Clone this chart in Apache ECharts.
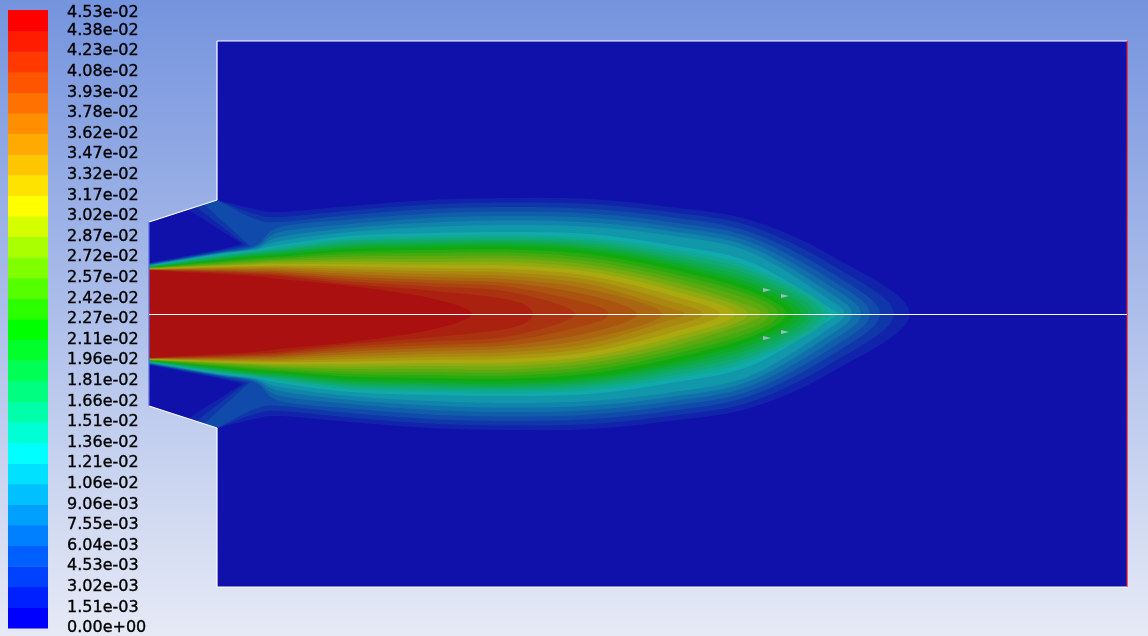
<!DOCTYPE html>
<html><head><meta charset="utf-8">
<script src="https://cdn.jsdelivr.net/npm/echarts/dist/echarts.min.js"></script>
<style>html,body{margin:0;padding:0;overflow:hidden}#c{width:1148px;height:636px}</style>
</head><body><div id="c"></div>
<script>
// ---- legend (colour scale) ----
const tickLabels = ['0.00e+00','1.51e-03','3.02e-03','4.53e-03','6.04e-03','7.55e-03','9.06e-03','1.06e-02','1.21e-02','1.36e-02','1.51e-02','1.66e-02','1.81e-02','1.96e-02','2.11e-02','2.27e-02','2.42e-02','2.57e-02','2.72e-02','2.87e-02','3.02e-02','3.17e-02','3.32e-02','3.47e-02','3.62e-02','3.78e-02','3.93e-02','4.08e-02','4.23e-02','4.38e-02','4.53e-02'];
const bandColors = ['#0000ff','#0020ff','#0040ff','#0060ff','#0080ff','#00a0ff','#00c0ff','#00e0ff','#00ffff',
  '#00ffd5','#00ffaa','#00ff80','#00ff55','#00ff2b','#00ff00',
  '#2bff00','#55ff00','#80ff00','#aaff00','#d5ff00','#ffff00',
  '#ffe300','#ffc600','#ffaa00','#ff8e00','#ff7100','#ff5500','#ff3900','#ff1c00','#ff0000'];

// ---- geometry (axial x from inlet, radial r from axis) ----
const domainX = [0, 68, 68, 978, 978, 68, 68, 0];
const domainR = [92, 114, 273, 273, -273, -273, -114, -92];

// ---- contour lines, level k = 1..29 (upper half, mirrored) ----
const stationX = [0, 68, 106, 131, 201, 281, 361, 441, 521, 601, 681];
const tipX = [761, 745, 731, 721, 712, 703, 695, 687, 680, 673, 666, 659, 652, 645, 637, 629, 620, 610, 599, 586, 571, 554, 535, 513, 488, 459, 426, 384, 323];
const halfWidth = [
  [51.0, 64, 105, 102, 108, 114, 116, 115, 107, 94, 59],
  [50.6, 63, 100, 97, 103.5, 109.5, 111.5, 110, 102, 88, 50],
  [50.2, 62, 95, 92, 99, 105, 107, 105, 97, 82, 42],
  [49.8, 61.5, 68.5, 87, 94.5, 100.5, 102.5, 100.5, 92, 77, 35],
  [49.4, 61, 67, 82, 90, 96, 98, 96, 87.5, 72, 28],
  [49.0, 60.5, 66, 77, 86, 91.5, 93.5, 91.5, 83, 67, 21],
  [48.6, 60, 65, 73, 82, 87, 89, 87, 78.5, 62, 14],
  [48.3, 59.5, 64, 69, 78, 81, 82, 80, 69, 52, 6],
  [48.0, 58.5, 63, 67, 75.5, 78, 79, 76, 65, 47],
  [47.7, 57.5, 62, 65, 73, 75.5, 76.5, 73, 61.5, 43],
  [47.4, 56.5, 61, 63.5, 71, 73, 74, 70.5, 58, 39],
  [47.1, 55.5, 60, 62, 69, 71, 72, 68, 55, 35],
  [46.8, 54.5, 59, 60.5, 67, 69, 70, 65.5, 52, 31],
  [46.5, 53.5, 57.5, 59, 65, 67, 67.5, 63, 49, 27],
  [46.3, 52.5, 56, 57.5, 62.5, 64, 64.5, 59.5, 45, 23],
  [46.1, 51.5, 54.5, 56, 60, 61, 61.5, 56, 41, 19],
  [45.9, 50.5, 53, 54.5, 57.5, 58, 58.5, 52.5, 37, 14],
  [45.7, 49.5, 51.5, 53, 55, 55, 55.5, 49, 33, 8],
  [45.5, 48.7, 50.3, 51.5, 52.5, 52, 52, 45.5, 28.5],
  [45.3, 48, 49.2, 50, 50, 49, 48.5, 42, 24],
  [45.1, 47.2, 48, 48.5, 47.5, 46, 45, 38, 19],
  [44.9, 46.4, 46.8, 47, 45, 43, 41.5, 34, 13],
  [44.7, 45.6, 45.6, 45.5, 42.5, 40, 38, 29.5, 6],
  [44.5, 44.8, 44.4, 44, 40, 37, 34.5, 24.5],
  [44.3, 44, 43.2, 42.5, 37.5, 34, 31, 18.5],
  [44.2, 43.2, 42, 41, 35, 31, 27, 10],
  [44.1, 42.4, 40.8, 39.5, 32.5, 27.5, 22],
  [44.0, 41.4, 39.6, 38, 30, 23.5, 14],
  [43.9, 40, 37.8, 35, 28, 16]
];
// recirculation wedge behind the step for the lowest levels
const wedgeTurnX = [93, 97, 101];
const wedgeTurnR = [70, 69, 68];
const wedgeWallX = [39, 47, 55];
const wedgeWallR = [104.6, 107.2, 109.8];
// small vector glyphs near the jet tip
const glyphX = [618, 636, 618, 636];
const glyphR = [24, 18, -24, -18];

// ---- rendering helpers ----
const shade = hex => {
  const n = parseInt(hex.slice(1), 16);
  const f = c => Math.round(16 + c * 154 / 255);
  return 'rgb(' + f((n >> 16) & 255) + ',' + f((n >> 8) & 255) + ',' + f(n & 255) + ')';
};
const domainPts = api => domainX.map((x, i) => api.coord([x, domainR[i]]));

function levelPts(i) {
  const r = halfWidth[i];
  const up = [], upC = [];
  for (let j = 0; j < r.length; j++) {
    up.push([stationX[j], r[j]]); upC.push(j === 0);
    if (j === 1 && i < wedgeTurnX.length) {
      up.push([wedgeTurnX[i], wedgeTurnR[i]]); upC.push(true);
      up.push([wedgeWallX[i], wedgeWallR[i]]); upC.push(true);
      up.push([domainX[1], domainR[1]]); upC.push(true);
    }
  }
  const low = up.slice().reverse().map(p => [p[0], -p[1]]);
  const lowC = upC.slice().reverse();
  return {pts: up.concat([[tipX[i], 0]], low), corner: upC.concat([false], lowC)};
}

// Catmull-Rom through the contour points (pixel space), corners kept sharp
function spline(pts, corner) {
  const n = pts.length, out = [], steps = 10;
  for (let s = 0; s < n; s++) {
    const e = (s + 1) % n;
    const p1 = pts[s], p2 = pts[e];
    const p0 = corner[s] ? p1 : pts[(s - 1 + n) % n];
    const p3 = corner[e] ? p2 : pts[(s + 2) % n];
    for (let t = 0; t < steps; t++) {
      const u = t / steps, u2 = u * u, u3 = u2 * u;
      const f = k => 0.5 * (2 * p1[k] + (-p0[k] + p2[k]) * u +
        (2 * p0[k] - 5 * p1[k] + 4 * p2[k] - p3[k]) * u2 +
        (-p0[k] + 3 * p1[k] - 3 * p2[k] + p3[k]) * u3);
      out.push([f(0), f(1)]);
    }
  }
  return out;
}

const chart = echarts.init(document.getElementById('c'));
chart.setOption({
  animation: false,
  backgroundColor: {type: 'linear', x: 0, y: 0, x2: 0, y2: 1,
    colorStops: [{offset: 0, color: '#7594de'}, {offset: 1, color: '#e6eaf6'}]},
  grid: [
    {left: 149, top: 41, width: 978, height: 546},
    {left: 8, top: 10, width: 40, height: 618}
  ],
  xAxis: [
    {type: 'value', gridIndex: 0, min: 0, max: 978, show: false},
    {type: 'value', gridIndex: 1, min: 0, max: 1, show: false}
  ],
  yAxis: [
    {type: 'value', gridIndex: 0, min: -273, max: 273, show: false},
    {type: 'value', gridIndex: 1, min: 0, max: 30, interval: 1, show: false}
  ],
  series: [
    {
      type: 'custom', xAxisIndex: 0, yAxisIndex: 0, clip: false, silent: true,
      data: [[0]],
      renderItem: (params, api) => ({
        type: 'polygon', shape: {points: domainPts(api)},
        style: {fill: shade(bandColors[0])}
      })
    },
    {
      type: 'custom', xAxisIndex: 0, yAxisIndex: 0, clip: false, silent: true,
      data: halfWidth.map((r, i) => [i + 1]),
      renderItem: (params, api) => {
        const i = params.dataIndex;
        const L = levelPts(i);
        return {
          type: 'polygon',
          shape: {points: spline(L.pts.map(p => api.coord(p)), L.corner)},
          style: {fill: shade(bandColors[i + 1])},
          clipPath: {type: 'polygon', shape: {points: domainPts(api)}}
        };
      },
      markLine: {silent: true, symbol: 'none', label: {show: false},
        lineStyle: {color: '#ffffff', width: 1, type: 'solid'},
        data: [{yAxis: 0}]}
    },
    {
      type: 'custom', xAxisIndex: 0, yAxisIndex: 0, clip: false, silent: true,
      data: domainX.map((x, i) => [i]),
      renderItem: (params, api) => {
        const i = params.dataIndex, j = (i + 1) % domainX.length;
        const a = api.coord([domainX[i], domainR[i]]), b = api.coord([domainX[j], domainR[j]]);
        const col = i === 3 ? '#e8101c' : (i === 7 ? '#5a68e0' : '#ffffff');
        return {type: 'line', shape: {x1: a[0], y1: a[1], x2: b[0], y2: b[1]},
          style: {stroke: col, lineWidth: 1.2}};
      }
    },
    {
      type: 'scatter', xAxisIndex: 0, yAxisIndex: 0, silent: true,
      data: glyphX.map((x, i) => [x, glyphR[i]]),
      symbol: 'triangle', symbolSize: [4, 8], symbolRotate: -90,
      itemStyle: {color: '#b8c0ec'}
    },
    {
      type: 'custom', xAxisIndex: 1, yAxisIndex: 1, silent: true, clip: false,
      data: bandColors.map((c, i) => [i]),
      renderItem: (params, api) => {
        const i = params.dataIndex;
        const a = api.coord([0, i + 1]), b = api.coord([1, i]);
        return {type: 'rect', shape: {x: a[0], y: a[1], width: b[0] - a[0], height: b[1] - a[1] + 0.5},
          style: {fill: bandColors[i]}};
      }
    },
    {
      type: 'custom', xAxisIndex: 1, yAxisIndex: 1, silent: true, clip: false,
      data: tickLabels.map((t, i) => [1, i]),
      renderItem: (params, api) => {
        const p = api.coord([api.value(0), api.value(1)]);
        return {type: 'text', x: p[0] + 19, y: Math.max(p[1], 12.5),
          style: {text: tickLabels[params.dataIndex], fill: '#000', fontSize: 16,
            fontFamily: 'DejaVu Sans', align: 'left', verticalAlign: 'middle',
            stroke: '#000', lineWidth: 0.35}};
      }
    }
  ]
});
</script></body></html>
